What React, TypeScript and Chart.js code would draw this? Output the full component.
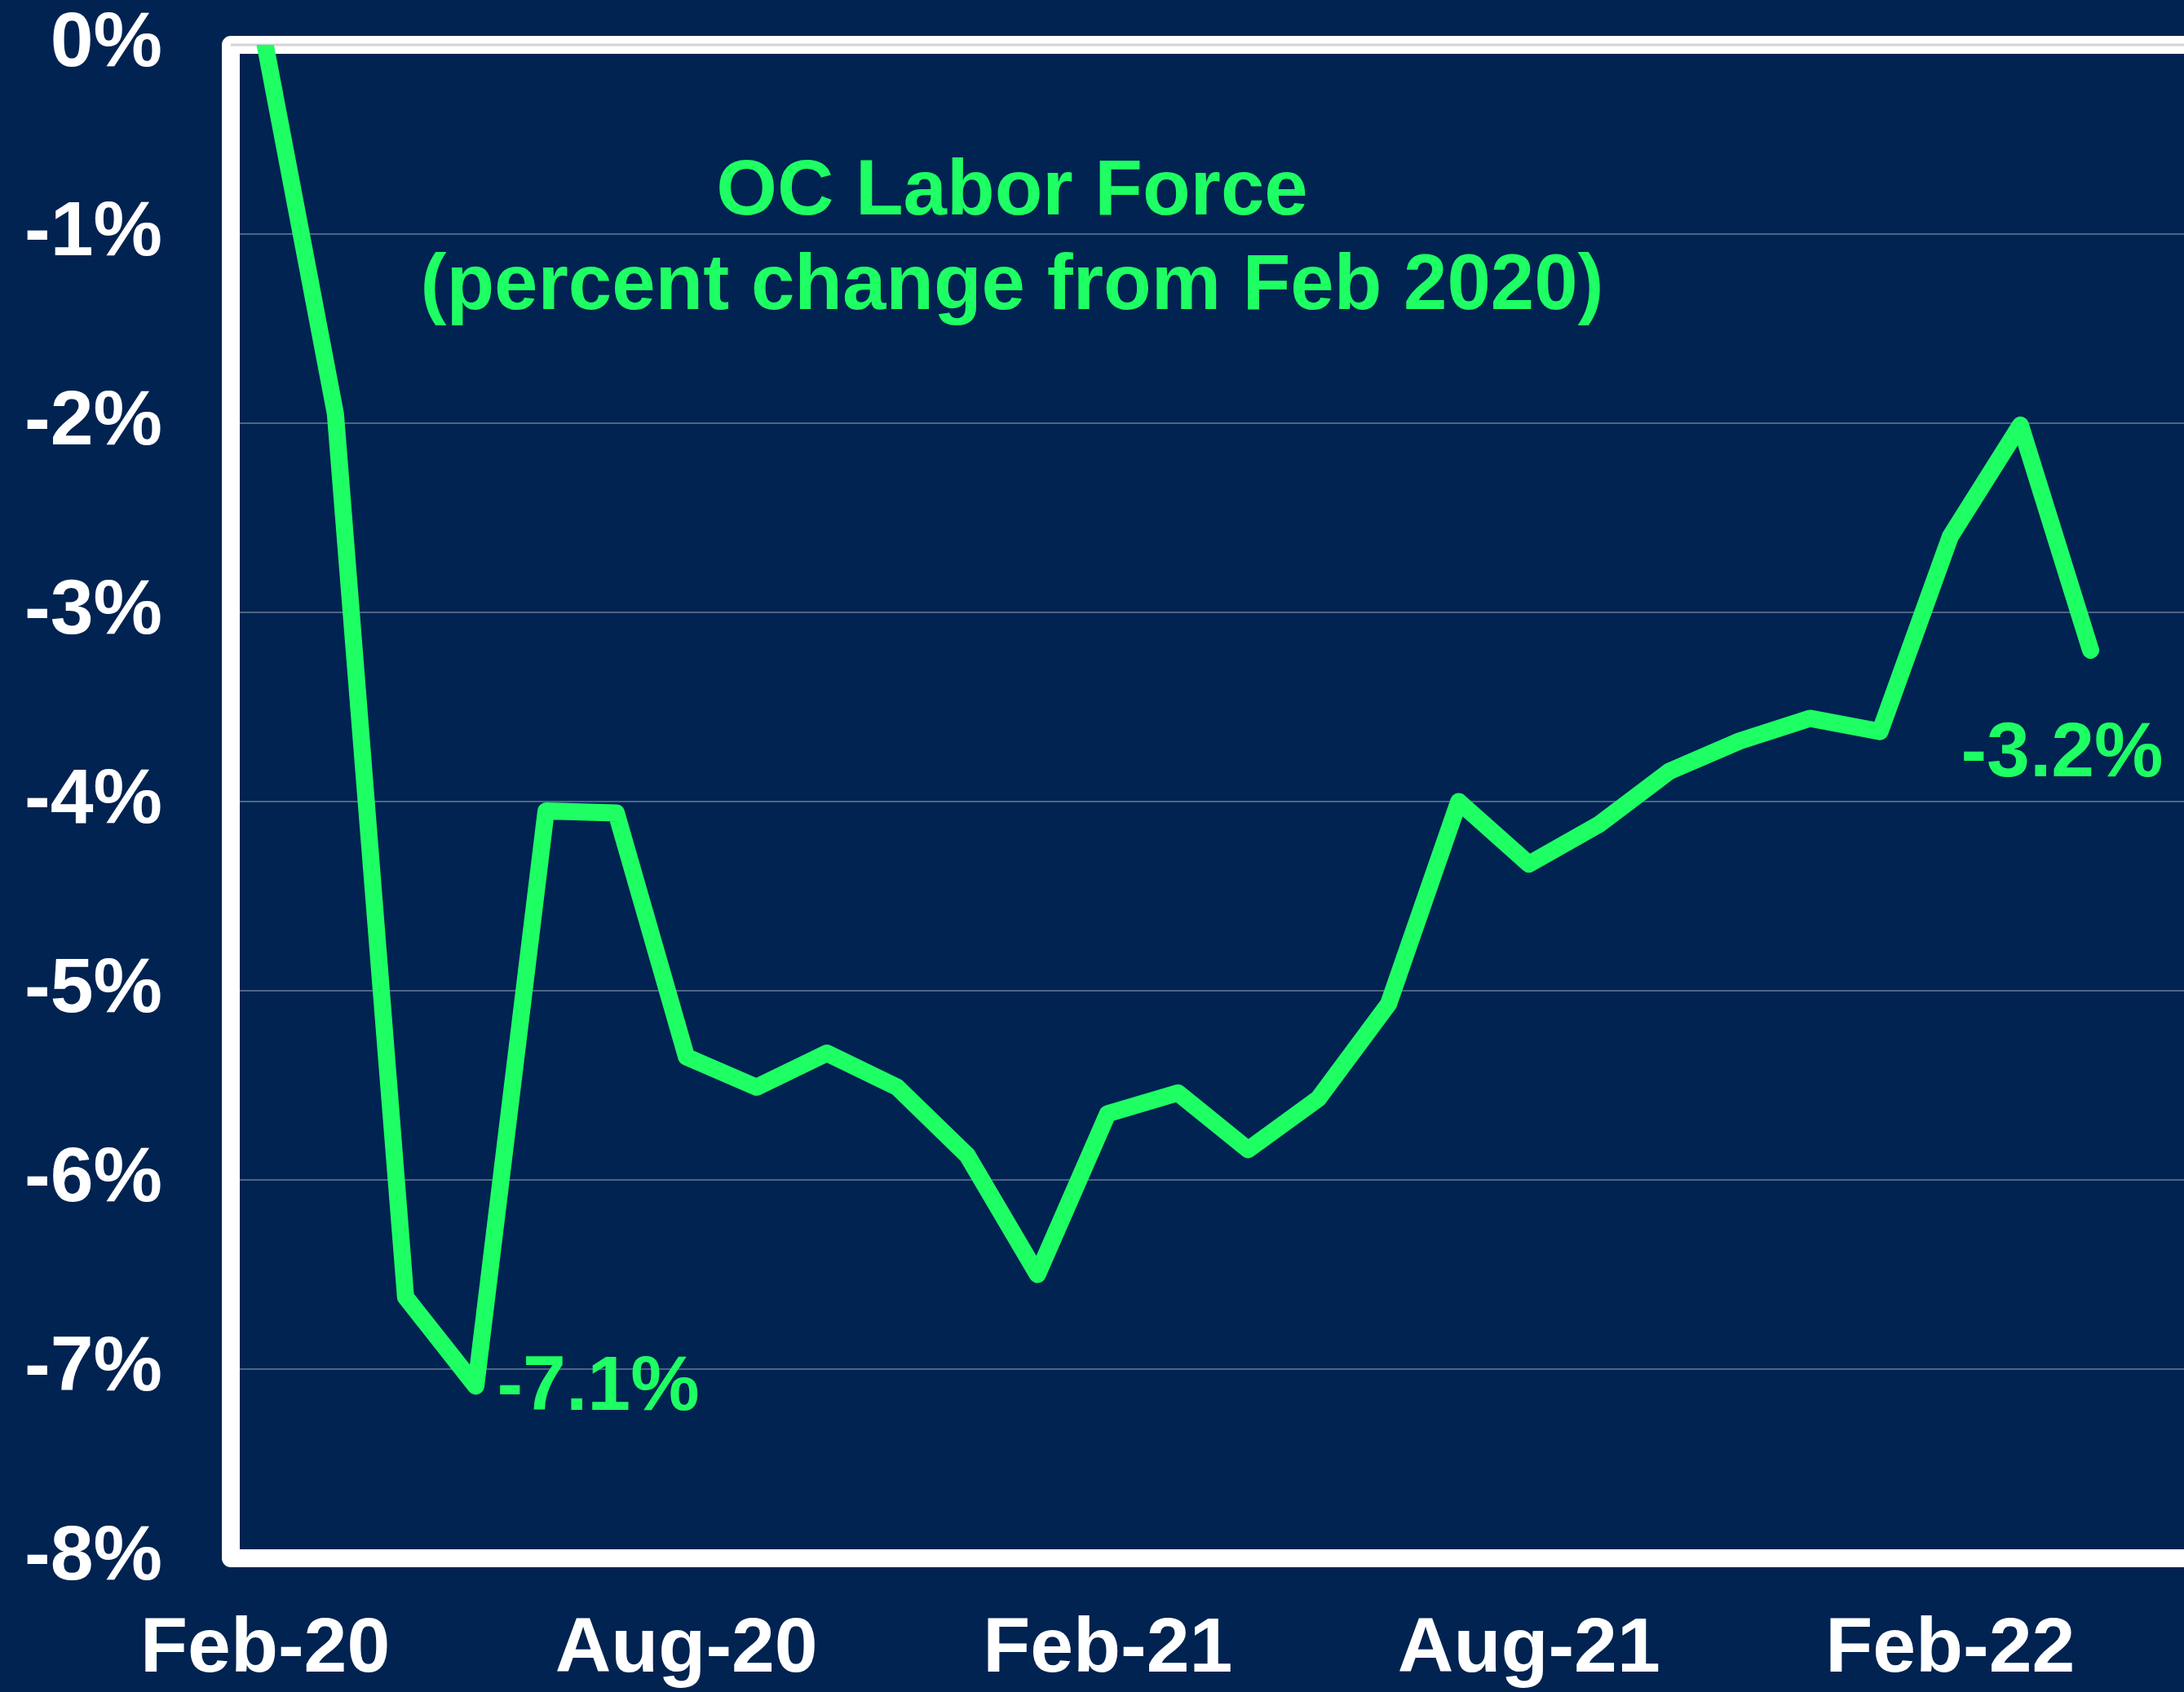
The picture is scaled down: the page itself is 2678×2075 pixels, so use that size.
import React, { useEffect, useRef } from 'react';
import { Chart, registerables } from 'chart.js';

Chart.register(...registerables);

// ---- data ----
const months = [
  'Feb-20', 'Mar-20', 'Apr-20', 'May-20', 'Jun-20', 'Jul-20', 'Aug-20', 'Sep-20', 'Oct-20',
  'Nov-20', 'Dec-20', 'Jan-21', 'Feb-21', 'Mar-21', 'Apr-21', 'May-21', 'Jun-21', 'Jul-21',
  'Aug-21', 'Sep-21', 'Oct-21', 'Nov-21', 'Dec-21', 'Jan-22', 'Feb-22', 'Mar-22', 'Apr-22',
];
const laborForceChange = [
  0, -1.95, -6.62, -7.09, -4.05, -4.06, -5.35, -5.51, -5.33,
  -5.51, -5.87, -6.5, -5.65, -5.54, -5.84, -5.57, -5.07, -4.0,
  -4.33, -4.12, -3.84, -3.68, -3.56, -3.63, -2.6, -2.01, -3.2,
];
const xTickIndices = [0, 6, 12, 18, 24];
const yMin = -8;
const yMax = 0;
const titleLines = ['OC Labor Force', '(percent change from Feb 2020)'];
const annotationIndices = [3, 26];
const annotationTexts = ['-7.1%', '-3.2%'];

// ---- styles ----
const NAVY = '#002351';
const GREEN = '#1eff64';
const FONT = '"Liberation Sans", Arial, Helvetica, sans-serif';
const W = 2678;
const H = 2075;

const framePlugin = {
  id: 'frame',
  beforeDraw(chart: any) {
    const { ctx } = chart;
    ctx.save();
    ctx.fillStyle = NAVY;
    ctx.fillRect(0, 0, chart.width, chart.height);
    ctx.restore();
  },
  beforeDatasetsDraw(chart: any) {
    const { ctx, chartArea } = chart;
    const { left, top, right, bottom } = chartArea;
    ctx.save();
    ctx.strokeStyle = '#ffffff';
    ctx.lineWidth = 22;
    ctx.lineJoin = 'round';
    ctx.beginPath();
    ctx.moveTo(right + 30, top);
    ctx.lineTo(left, top);
    ctx.lineTo(left, bottom);
    ctx.lineTo(right + 30, bottom);
    ctx.stroke();
    ctx.strokeStyle = '#d4d4d4';
    ctx.lineWidth = 3;
    ctx.beginPath();
    ctx.moveTo(left, top);
    ctx.lineTo(right, top);
    ctx.stroke();
    ctx.restore();
  },
  afterDatasetsDraw(chart: any) {
    const { ctx, chartArea, scales } = chart;
    ctx.save();
    ctx.fillStyle = GREEN;
    ctx.font = `bold 96px ${FONT}`;
    ctx.textAlign = 'center';
    ctx.textBaseline = 'alphabetic';
    const cx = chartArea.left + 0.4 * (chartArea.right - chartArea.left);
    ctx.fillText(titleLines[0], cx, chartArea.top + 208);
    ctx.fillText(titleLines[1], cx, chartArea.top + 324);

    ctx.font = `bold 95px ${FONT}`;
    ctx.textBaseline = 'middle';
    annotationIndices.forEach((idx, k) => {
      const px = scales.x.getPixelForValue(idx);
      const py = scales.y.getPixelForValue(laborForceChange[idx]);
      if (k === 0) {
        ctx.textAlign = 'left';
        ctx.fillText(annotationTexts[k], px + 26, py + 3);
      } else {
        ctx.textAlign = 'center';
        ctx.fillText(annotationTexts[k], px - 35, py + 128);
      }
    });
    ctx.restore();
  },
};

export default function App() {
  const canvasRef = useRef<HTMLCanvasElement | null>(null);

  useEffect(() => {
    document.body.style.margin = '0';
    document.body.style.background = NAVY;
    const canvas = canvasRef.current;
    if (!canvas) return;
    const points = laborForceChange.map((v, i) => ({ x: i, y: v }));
    const chart = new Chart(canvas, {
      type: 'line',
      data: {
        datasets: [
          {
            label: 'OC Labor Force',
            data: points,
            borderColor: GREEN,
            backgroundColor: GREEN,
            borderWidth: 21,
            borderJoinStyle: 'round',
            borderCapStyle: 'round',
            pointRadius: 0,
            tension: 0,
            clip: 0,
          } as any,
        ],
      },
      plugins: [framePlugin],
      options: {
        responsive: false,
        animation: false,
        devicePixelRatio: 1,
        layout: { padding: { top: 55, left: 0, right: 0, bottom: 0 } },
        plugins: {
          legend: { display: false },
          title: { display: false },
          tooltip: { enabled: false },
        },
        scales: {
          x: {
            type: 'linear',
            min: -0.49,
            max: 27.33,
            grid: { display: false, drawTicks: false },
            border: { display: false },
            afterBuildTicks: (axis: any) => {
              axis.ticks = xTickIndices.map((v) => ({ value: v }));
            },
            afterFit: (axis: any) => {
              axis.height = 164;
            },
            ticks: {
              autoSkip: false,
              maxRotation: 0,
              minRotation: 0,
              padding: 56,
              color: '#ffffff',
              font: { family: FONT, size: 95, weight: 'bold' },
              callback: (value: any) => months[Math.round(Number(value))] ?? '',
            },
          },
          y: {
            type: 'linear',
            min: yMin,
            max: yMax,
            grid: {
              color: 'rgba(255,255,255,0.3)',
              lineWidth: 2,
              drawTicks: true,
              tickLength: 84,
              tickColor: 'rgba(0,0,0,0)',
            },
            border: { display: false },
            afterFit: (axis: any) => {
              axis.width = 283;
            },
            ticks: {
              stepSize: 1,
              padding: 0,
              color: '#ffffff',
              font: { family: FONT, size: 95, weight: 'bold', lineHeight: 1 },
              callback: (value: any) => `${Math.round(Number(value))}%`,
            },
          },
        },
      } as any,
    });
    return () => chart.destroy();
  }, []);

  return (
    <div style={{ position: 'absolute', left: 0, top: 0, width: W, height: H, background: NAVY }}>
      <canvas ref={canvasRef} width={W} height={H} style={{ width: W, height: H, display: 'block' }} />
    </div>
  );
}
